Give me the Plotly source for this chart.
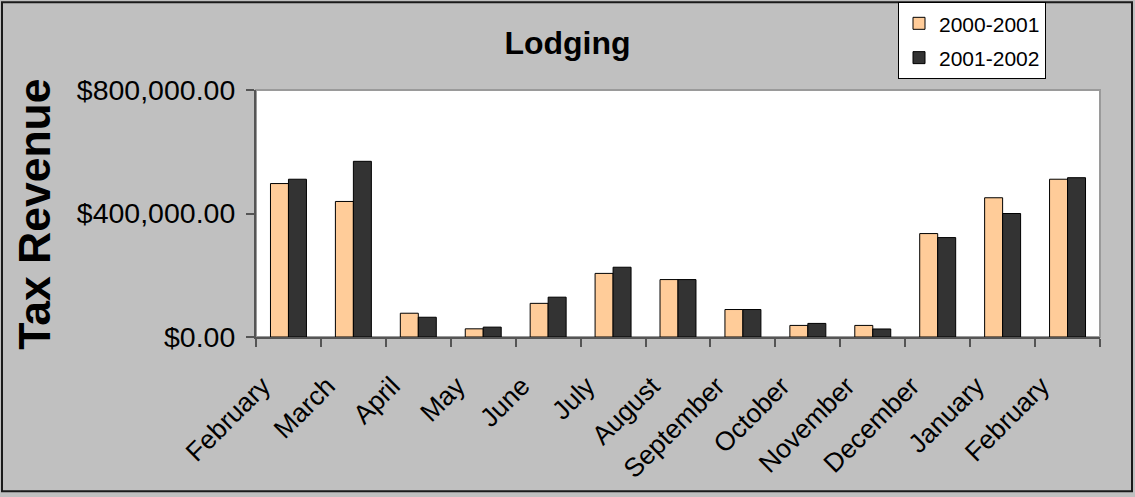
import plotly.graph_objects as go

months = ["February", "March", "April", "May", "June", "July", "August",
          "September", "October", "November", "December", "January", "February"]
fy_2000_2001 = [497000, 439000, 77000, 26500, 109000, 206000, 186000,
                89000, 37500, 37500, 335000, 451000, 511000]
fy_2001_2002 = [511000, 569000, 64000, 32000, 129000, 226000, 186000,
                89000, 44000, 26000, 322000, 400000, 516000]
series_names = ["2000-2001", "2001-2002"]
y_ticks = [0, 400000, 800000]

W, H = 1135, 497
L, R, T, B = 256, 35, 90, 159.5
pw, ph = W - L - R, H - T - B

def px_x(p):
    return (p - L) / pw

def px_y(p):
    return (H - B - p) / ph

idx = list(range(len(months)))

fig = go.Figure()
fig.add_trace(go.Bar(x=idx, y=fy_2000_2001, name=series_names[0], legendgroup="a",
                     marker=dict(color="#FFCC99", line=dict(color="#000000", width=1))))
fig.add_trace(go.Bar(x=idx, y=fy_2001_2002, name=series_names[1], legendgroup="b",
                     marker=dict(color="#333333", line=dict(color="#000000", width=1))))

fig.update_layout(
    width=W, height=H,
    margin=dict(l=L, r=R, t=T, b=B, autoexpand=False),
    paper_bgcolor="#C0C0C0", plot_bgcolor="#FFFFFF",
    barmode="group", bargap=0.446, bargroupgap=0,
    font=dict(family="Liberation Sans, Arial, sans-serif", color="#000000"),
    title=dict(text="<b>Lodging</b>", font=dict(size=32), x=0.5, xref="container",
               xanchor="center", y=1 - 43 / H, yref="container", yanchor="middle"),
    showlegend=True,
    legend=dict(x=px_x(898), y=px_y(2), xanchor="left", yanchor="top",
                bgcolor="#FFFFFF", bordercolor="#000000", borderwidth=1,
                font=dict(size=21), tracegroupgap=4, itemwidth=30,
                traceorder="grouped"),
    xaxis=dict(range=[-0.5, len(months) - 0.5], tickmode="array", tickvals=idx,
               ticktext=months, tickangle=-45, tickfont=dict(size=26.5),
               ticks="", showgrid=False, zeroline=False,
               ticklabelstandoff=21, ticklabelshift=-26,
               showline=True, linecolor="#555555", linewidth=2,
               minor=dict(tickmode="linear", tick0=0.5, dtick=1, ticks="outside",
                          ticklen=8, tickcolor="#555555", tickwidth=2, showgrid=False)),
    yaxis=dict(range=[0, 800000], tickmode="array", tickvals=y_ticks,
               tickformat="$,.2f", tickfont=dict(size=28.5), ticks="outside",
               ticklen=8, tickcolor="#555555", tickwidth=2, showgrid=False,
               ticklabelstandoff=5,
               zeroline=False, showline=True, linecolor="#555555", linewidth=2),
    shapes=[
        dict(type="rect", xref="paper", yref="paper", x0=0, x1=1, y0=0, y1=1,
             line=dict(color="#9A9A9A", width=2), layer="below"),
        dict(type="rect", xref="paper", yref="paper",
             x0=px_x(2), x1=px_x(1132), y0=px_y(492), y1=px_y(2),
             line=dict(color="#1A1A1A", width=2)),
    ],
    annotations=[
        dict(text="<b>Tax Revenue</b>", xref="paper", yref="paper",
             x=px_x(35), y=px_y(215), xanchor="center", yanchor="middle",
             textangle=-90, showarrow=False, font=dict(size=44.5)),
    ],
)

fig.write_html("out.html", config={"displayModeBar": False},
               post_script="document.body.style.margin='0';document.body.style.padding='0';")
